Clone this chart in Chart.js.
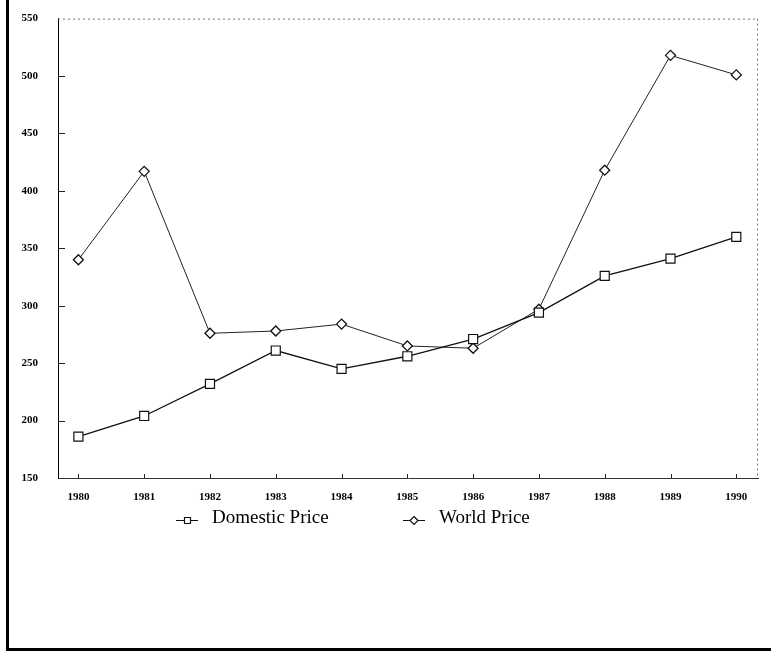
<!DOCTYPE html>
<html>
<head>
<meta charset="utf-8">
<script src="https://cdn.jsdelivr.net/npm/chart.js@4.4.1/dist/chart.umd.min.js"></script>
<style>
  html, body { margin: 0; padding: 0; background: #fff; }
  #wrap { position: relative; width: 771px; height: 657px; overflow: hidden; }
  #c { position: absolute; left: 0; top: 0; }
  #frame { position: absolute; left: 6px; top: 0; width: 765px; height: 651px; box-sizing: border-box;
           border-left: 3px solid #000; border-bottom: 3px solid #000; pointer-events: none; }
  .lg { position: absolute; top: 506px; font-family: "Liberation Serif", "DejaVu Serif", serif; font-size: 19px;
        line-height: 22px; color: #000; white-space: nowrap; display: flex; align-items: center; }
  .lg canvas { margin-right: 14px; margin-top: 6px; }
</style>
</head>
<body>
<div id="wrap">
  <canvas id="c" width="771" height="657"></canvas>
  <div id="frame"></div>
  <div id="legend"></div>
</div>
<script>
const years = [1980, 1981, 1982, 1983, 1984, 1985, 1986, 1987, 1988, 1989, 1990];
const domesticPrice = [186, 204, 232, 261, 245, 256, 271, 294, 326, 341, 360];
const worldPrice = [340, 417, 276, 278, 284, 265, 263, 297, 418, 518, 501];
const seriesNames = ["Domestic Price", "World Price"];
const yTicks = [150, 200, 250, 300, 350, 400, 450, 500, 550];

const tickFont = { family: "Liberation Serif", size: 11, weight: "bold" };

const innerTicks = {
  id: "innerTicks",
  afterDraw(chart) {
    const { ctx, chartArea: a, scales } = chart;
    ctx.save();
    ctx.strokeStyle = "#777";
    ctx.lineWidth = 1;
    ctx.setLineDash([2, 3]);
    ctx.beginPath();
    ctx.moveTo(a.left, a.top + 0.5); ctx.lineTo(a.right, a.top + 0.5);
    ctx.moveTo(a.right - 0.5, a.top); ctx.lineTo(a.right - 0.5, a.bottom);
    ctx.stroke();
    ctx.setLineDash([]);
    ctx.strokeStyle = "#222";
    ctx.beginPath();
    yTicks.forEach(v => {
      if (v === yTicks[0] || v === yTicks[yTicks.length - 1]) return;
      const py = Math.round(scales.y.getPixelForValue(v)) + 0.5;
      ctx.moveTo(a.left, py); ctx.lineTo(a.left + 7, py);
    });
    years.forEach(v => {
      const px = Math.round(scales.x.getPixelForValue(v)) + 0.5;
      ctx.moveTo(px, a.bottom); ctx.lineTo(px, a.bottom - 4);
    });
    ctx.stroke();
    ctx.restore();
  }
};

const chart = new Chart(document.getElementById("c"), {
  type: "line",
  data: {
    datasets: [
      {
        label: seriesNames[0],
        data: years.map((y, i) => ({ x: y, y: domesticPrice[i] })),
        borderColor: "#111", borderWidth: 1.3, tension: 0,
        pointStyle: "rect", pointRadius: 6.4, pointBorderWidth: 1.2,
        pointBackgroundColor: "#fff", pointBorderColor: "#111"
      },
      {
        label: seriesNames[1],
        data: years.map((y, i) => ({ x: y, y: worldPrice[i] })),
        borderColor: "#222", borderWidth: 1, tension: 0,
        pointStyle: "rectRot", pointRadius: 5, pointBorderWidth: 1.3,
        pointBackgroundColor: "#fff", pointBorderColor: "#111"
      }
    ]
  },
  options: {
    responsive: false,
    animation: false,
    layout: { padding: { top: 17, left: 0, right: 13, bottom: 155 } },
    plugins: { legend: { display: false }, tooltip: { enabled: false } },
    scales: {
      x: {
        type: "linear",
        min: 1979.69, max: 1990.33,
        afterBuildTicks: s => { s.ticks = years.map(v => ({ value: v })); },
        afterFit: s => { s.height = 24; },
        grid: { display: false },
        border: { display: true, color: "#333", width: 1 },
        ticks: { padding: 5, color: "#000", font: tickFont, maxRotation: 0, autoSkip: false,
                 callback: v => String(v) }
      },
      y: {
        min: 150, max: 550,
        afterBuildTicks: s => { s.ticks = yTicks.map(v => ({ value: v })); },
        afterFit: s => { s.width = 58; },
        grid: { display: false },
        border: { display: true, color: "#000", width: 1 },
        ticks: { padding: 12, color: "#000", font: tickFont, callback: v => String(v) }
      }
    }
  },
  plugins: [innerTicks]
});

const legendLeft = [176, 403];
const legendEl = document.getElementById("legend");
chart.data.datasets.forEach((ds, i) => {
  const item = document.createElement("div");
  item.className = "lg";
  item.style.left = legendLeft[i] + "px";
  const m = document.createElement("canvas");
  m.width = 22; m.height = 12;
  const c = m.getContext("2d");
  c.strokeStyle = "#111"; c.lineWidth = 1;
  c.beginPath(); c.moveTo(0, 6.5); c.lineTo(22, 6.5); c.stroke();
  c.fillStyle = "#fff";
  c.beginPath();
  if (ds.pointStyle === "rect") {
    c.rect(8.5, 3.5, 6, 6);
  } else {
    c.moveTo(11, 2.5); c.lineTo(15, 6.5); c.lineTo(11, 10.5); c.lineTo(7, 6.5); c.closePath();
  }
  c.fill(); c.lineWidth = 1.2; c.stroke();
  item.appendChild(m);
  const t = document.createElement("span");
  t.textContent = ds.label;
  item.appendChild(t);
  legendEl.appendChild(item);
});
</script>
</body>
</html>
